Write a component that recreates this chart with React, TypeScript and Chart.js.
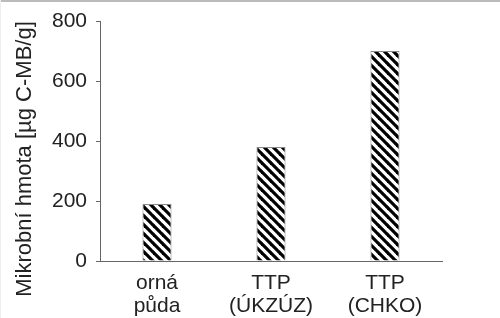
import React, { useEffect, useRef } from "react";
import { Chart, registerables } from "chart.js";

Chart.register(...registerables);

const categories: string[][] = [["orná", "půda"], ["TTP", "(ÚKZÚZ)"], ["TTP", "(CHKO)"]];
const values: number[] = [190, 380, 700];
const yTicks: number[] = [0, 200, 400, 600, 800];
const yTitle = "Mikrobní hmota [µg C-MB/g]";

function makePattern(): CanvasPattern | string {
  const s = 9;
  const c = document.createElement("canvas");
  c.width = s;
  c.height = s;
  const ctx = c.getContext("2d");
  if (!ctx) return "#000";
  ctx.fillStyle = "#ffffff";
  ctx.fillRect(0, 0, s, s);
  ctx.strokeStyle = "#000000";
  ctx.lineWidth = 3.2;
  for (let k = -1; k <= 1; k++) {
    ctx.beginPath();
    ctx.moveTo(k * s - 1, -1);
    ctx.lineTo(k * s + s + 1, s + 1);
    ctx.stroke();
  }
  const p = ctx.createPattern(c, "repeat");
  return p || "#000";
}

const titlePlugin = {
  id: "yTitlePlugin",
  afterDraw(chart: any) {
    const ctx = chart.ctx;
    ctx.save();
    ctx.translate(25, 159);
    ctx.rotate(-Math.PI / 2);
    ctx.fillStyle = "#222";
    ctx.font = "22px 'Liberation Sans', Arial, sans-serif";
    ctx.textAlign = "center";
    ctx.textBaseline = "middle";
    ctx.fillText(yTitle, 0, 0);
    ctx.restore();
  },
};

export default function App() {
  const ref = useRef<HTMLCanvasElement | null>(null);
  useEffect(() => {
    if (!ref.current) return;
    const font = { family: "'Liberation Sans', Arial, sans-serif", size: 21, lineHeight: 1.1 };
    const chart = new Chart(ref.current, {
      type: "bar",
      data: {
        labels: categories,
        datasets: [
          {
            data: values,
            backgroundColor: makePattern() as any,
            borderColor: "#888",
            borderWidth: 1,
            categoryPercentage: 1,
            barPercentage: 0.255,
          },
        ],
      },
      options: {
        animation: false,
        responsive: false,
        maintainAspectRatio: false,
        layout: { padding: { top: 21, right: 58, left: 0, bottom: 0 } },
        plugins: { legend: { display: false }, tooltip: { enabled: false } },
        scales: {
          x: {
            grid: { display: false, drawTicks: false },
            border: { display: true, color: "#666", width: 1 },
            ticks: { color: "#222", font, padding: 11, maxRotation: 0 },
            afterFit: (s: any) => {
              s.height = 57;
            },
          },
          y: {
            min: 0,
            max: 800,
            afterBuildTicks: (s: any) => {
              s.ticks = yTicks.map((v) => ({ value: v }));
            },
            grid: { drawOnChartArea: false, drawTicks: true, tickLength: 4, color: "#666" },
            border: { display: true, color: "#666", width: 1 },
            ticks: { color: "#222", font, padding: 9 },
            afterFit: (s: any) => {
              s.width = 100;
            },
          },
        },
      },
      plugins: [titlePlugin],
    });
    return () => chart.destroy();
  }, []);
  return (
    <div
      style={{
        position: "fixed",
        left: 0,
        top: 0,
        width: 500,
        height: 318,
        background: "#fff",
        overflow: "hidden",
      }}
    >
      <canvas ref={ref} width={500} height={318} style={{ position: "absolute", left: 0, top: 0, display: "block" }} />
      <div style={{ position: "absolute", left: 0, top: 0, width: 500, height: 2, background: "#bbb" }} />
      <div style={{ position: "absolute", left: 0, top: 0, width: 1, height: 318, background: "#eee" }} />
    </div>
  );
}
